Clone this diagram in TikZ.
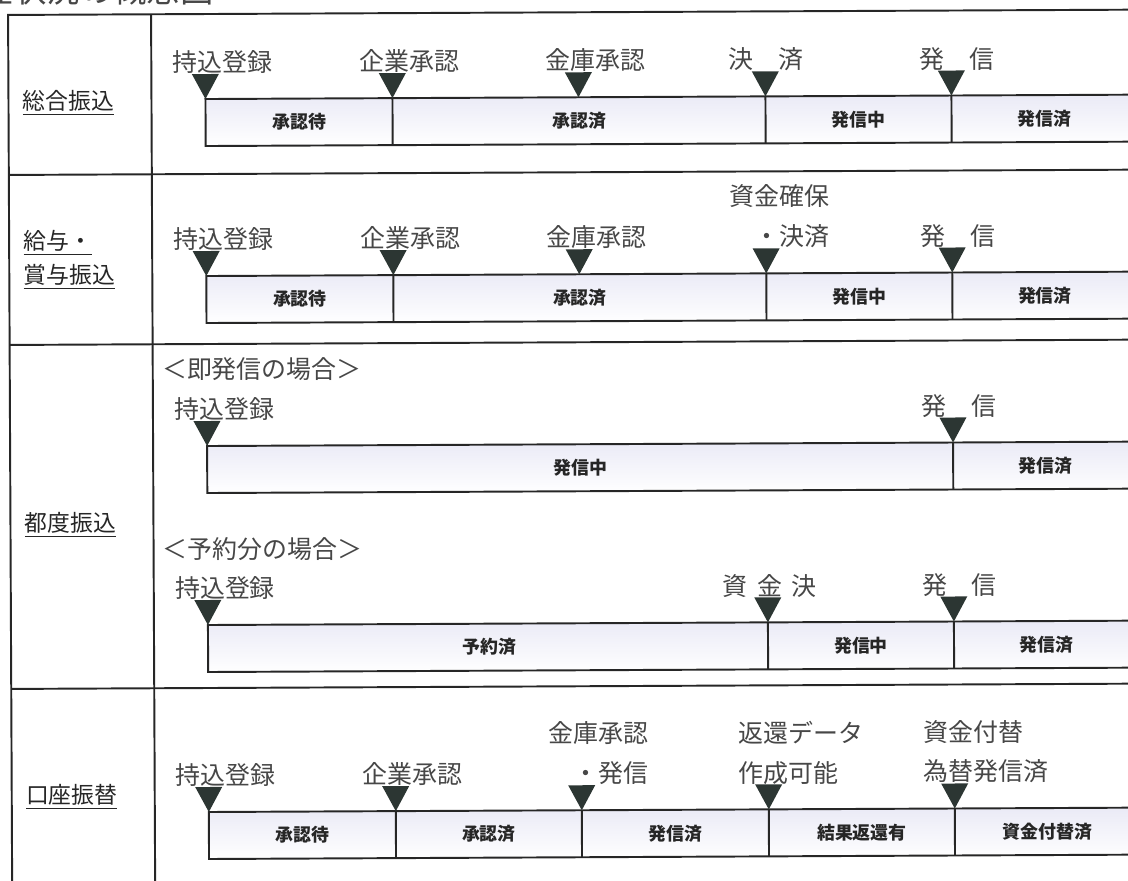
\documentclass[tikz,border=0pt]{standalone}
\usepackage{fontspec}
\setmainfont{Noto Sans CJK JP}
\definecolor{pinslate}{RGB}{44, 54, 51}
\definecolor{inkgrey}{RGB}{38, 38, 38}
\definecolor{barlav}{RGB}{234, 234, 246}
\usepackage{tikz}
\usetikzlibrary{positioning, calc}

\begin{document}
\begin{tikzpicture}[x=0.02cm, y=-0.02cm,
  rule/.style={draw=inkgrey, line width=1.1pt},
  statebar/.style={draw=inkgrey, line width=1.1pt, top color=barlav, bottom color=white},
  pin/.style={fill=pinslate},
  evt/.style={anchor=west, inner sep=0pt, text=inkgrey!85, font=\fontsize{14.2}{22.7}\selectfont},
  statelab/.style={inner sep=0pt, text=inkgrey, font=\bfseries\fontsize{10.2}{12}\selectfont},
  rowlab/.style={anchor=west, inner sep=0pt, align=left, text=inkgrey, font=\fontsize{13}{19.3}\selectfont}]
  \useasboundingbox (0,0) rectangle (1128,881);

  \begin{scope}[rotate=0.27]
  % title, cut by the top edge
  \node[anchor=east, inner sep=0pt, text=inkgrey!85, font=\fontsize{19}{22}\selectfont] (title) at (214,-9) {理状況の概念図};

  % table frame
  \draw[rule] (8,900) |- (1140,15);
  \draw[rule] (151,15) -- (151,900);
  \foreach \y in {175,345,689} \draw[rule] (8,\y) -- (1140,\y);

  % row labels
  \node[rowlab] (kind1) at (22,103) {\underline{総合振込}};
  \node[rowlab] (kind2) at (22,260) {\underline{給与・}\\\underline{賞与振込}};
  \node[rowlab] (kind3) at (22,525) {\underline{都度振込}};
  \node[rowlab] (kind4) at (22,797) {\underline{口座振替}};

  % Row 1
  \draw[statebar] (205,100) rectangle (1136,147);
  \foreach \x in {392,765,951} \draw[rule] (\x,100) -- (\x,147);
  \foreach \x in {205,392,578,765,951} \fill[pin] (\x-13.5,75) -- (\x+13.5,75) -- (\x,100) -- cycle;
  \node[evt] (r1reg) at (172,63) {持込登録};
  \node[evt] (r1co) at (359,63) {企業承認};
  \node[evt] (r1bk) at (545,63) {金庫承認};
  \node[evt] (r1set) at (728,63) {決　済};
  \node[evt] (r1snd) at (919,63) {発　信};
  \node[statelab] (r1s1) at (298.5,123.5) {承認待};
  \node[statelab] (r1s2) at (578.5,123.5) {承認済};
  \node[statelab] (r1s3) at (858,123.5) {発信中};
  \node[statelab] (r1s4) at (1043.5,123.5) {発信済};

  % Row 2
  \draw[statebar] (205,277) rectangle (1136,324);
  \foreach \x in {392,765,951} \draw[rule] (\x,277) -- (\x,324);
  \foreach \x in {205,392,578,765,951} \fill[pin] (\x-13.5,252) -- (\x+13.5,252) -- (\x,277) -- cycle;
  \node[evt] (r2reg) at (172,240) {持込登録};
  \node[evt] (r2co) at (359,240) {企業承認};
  \node[evt] (r2bk) at (545,240) {金庫承認};
  \node[evt, align=right] (r2set) at (728,219.5) {資金確保\\・決済};
  \node[evt] (r2snd) at (919,240) {発　信};
  \node[statelab] (r2s1) at (298.5,300.5) {承認待};
  \node[statelab] (r2s2) at (578.5,300.5) {承認済};
  \node[statelab] (r2s3) at (858,300.5) {発信中};
  \node[statelab] (r2s4) at (1043.5,300.5) {発信済};

  % Row 3, immediate sending
  \node[evt] (case1) at (160,370) {＜即発信の場合＞};
  \draw[statebar] (205,447) rectangle (1136,494);
  \draw[rule] (951,447) -- (951,494);
  \foreach \x in {205,951} \fill[pin] (\x-13.5,422) -- (\x+13.5,422) -- (\x,447) -- cycle;
  \node[evt] (r3reg) at (172,410) {持込登録};
  \node[evt] (r3snd) at (919,410) {発　信};
  \node[statelab] (r3s1) at (578,470.5) {発信中};
  \node[statelab] (r3s2) at (1043.5,470.5) {発信済};

  % Row 3, reserved
  \node[evt] (case2) at (160,550) {＜予約分の場合＞};
  \draw[statebar] (205,626) rectangle (1136,673);
  \foreach \x in {765,951} \draw[rule] (\x,626) -- (\x,673);
  \foreach \x in {205,765,951} \fill[pin] (\x-13.5,601) -- (\x+13.5,601) -- (\x,626) -- cycle;
  \node[evt] (r4reg) at (172,589) {持込登録};
  \node[evt] (r4set) at (719,589) {資\hspace{0.4em}金\hspace{0.4em}決};
  \node[evt] (r4snd) at (919,589) {発　信};
  \node[statelab] (r4s1) at (486.5,649.5) {予約済};
  \node[statelab] (r4s2) at (858,649.5) {発信中};
  \node[statelab] (r4s3) at (1043.5,649.5) {発信済};

  % Row 4
  \draw[statebar] (205,813) rectangle (1136,860);
  \foreach \x in {392,578,765,951} \draw[rule] (\x,813) -- (\x,860);
  \foreach \x in {205,392,578,765,951} \fill[pin] (\x-13.5,788) -- (\x+13.5,788) -- (\x,813) -- cycle;
  \node[evt] (r5reg) at (172,776) {持込登録};
  \node[evt] (r5co) at (359,776) {企業承認};
  \node[evt, align=right] (r5bk) at (545,756) {金庫承認\\・発信};
  \node[evt, align=left] (r5ret) at (735,756) {返還データ\\作成可能};
  \node[evt, align=left] (r5fund) at (920,756) {資金付替\\為替発信済};
  \node[statelab] (r5s1) at (298.5,836.5) {承認待};
  \node[statelab] (r5s2) at (485,836.5) {承認済};
  \node[statelab] (r5s3) at (671.5,836.5) {発信済};
  \node[statelab] (r5s4) at (858,836.5) {結果返還有};
  \node[statelab] (r5s5) at (1043.5,836.5) {資金付替済};
  \end{scope}
\end{tikzpicture}
\end{document}
